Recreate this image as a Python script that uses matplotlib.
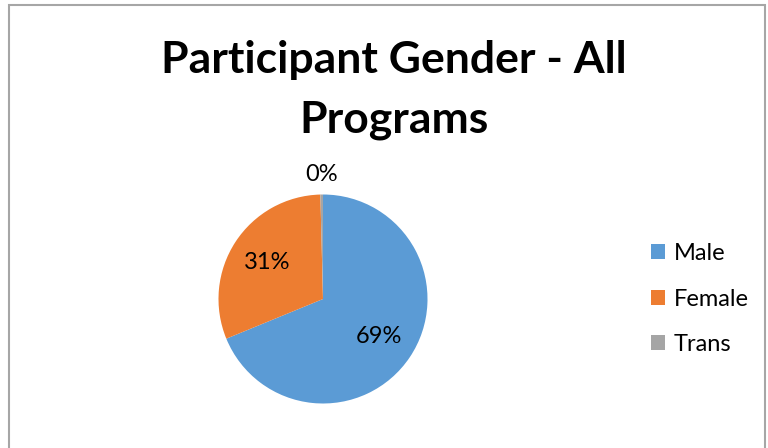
import numpy as np
import matplotlib.pyplot as plt
from matplotlib.patches import Rectangle, Patch

# data
labels = ['Male', 'Female', 'Trans']
values = [68.8, 30.8, 0.4]
colors = ['#5B9BD5', '#ED7D31', '#A5A5A5']
title = 'Participant Gender - All\nPrograms'

W, H = 768, 448
fig = plt.figure(figsize=(W / 100, H / 100), dpi=100)
plt.rcParams['font.family'] = ['Lato', 'DejaVu Sans']

# chart border
fig.patches.append(Rectangle((9 / W, -0.05), (765 - 9) / W, (H - 5) / H + 0.05,
                             transform=fig.transFigure, fill=False,
                             edgecolor='#a6a6a6', linewidth=1.5))

fig.text(394 / W, 1 - 90 / H, title, ha='center', va='center',
         fontsize=32, fontweight='bold', linespacing=1.6)

# pie axes (center 323,299; radius ~104.5 px)
cx, cy, r = 323, 299, 104.5
ax = fig.add_axes([(cx - r) / W, (H - cy - r) / H, 2 * r / W, 2 * r / H])
wedges, _ = ax.pie(values, colors=colors, startangle=90, counterclock=False,
                   radius=1, wedgeprops=dict(linewidth=0))
ax.set_xlim(-1, 1)
ax.set_ylim(-1, 1)
ax.set_aspect('auto')
ax.axis('off')

total = sum(values)
for w, v in zip(wedges, values):
    ang = np.deg2rad((w.theta1 + w.theta2) / 2)
    d = 0.64 if v / total > 0.05 else 1.19
    ax.text(d * np.cos(ang), d * np.sin(ang), f'{v / total * 100:.0f}%',
            ha='center', va='center', fontsize=17, color='#000000', clip_on=False)

handles = [Patch(facecolor=c, edgecolor='none') for c in colors]
fig.legend(handles, labels, loc='center left',
           bbox_to_anchor=(651 / W, (H - 299) / H), bbox_transform=fig.transFigure,
           frameon=False, fontsize=17, borderpad=0, borderaxespad=0,
           handlelength=0.6, handleheight=0.6, handletextpad=0.35,
           labelspacing=1.05)

fig.savefig('out.png', dpi=100)
